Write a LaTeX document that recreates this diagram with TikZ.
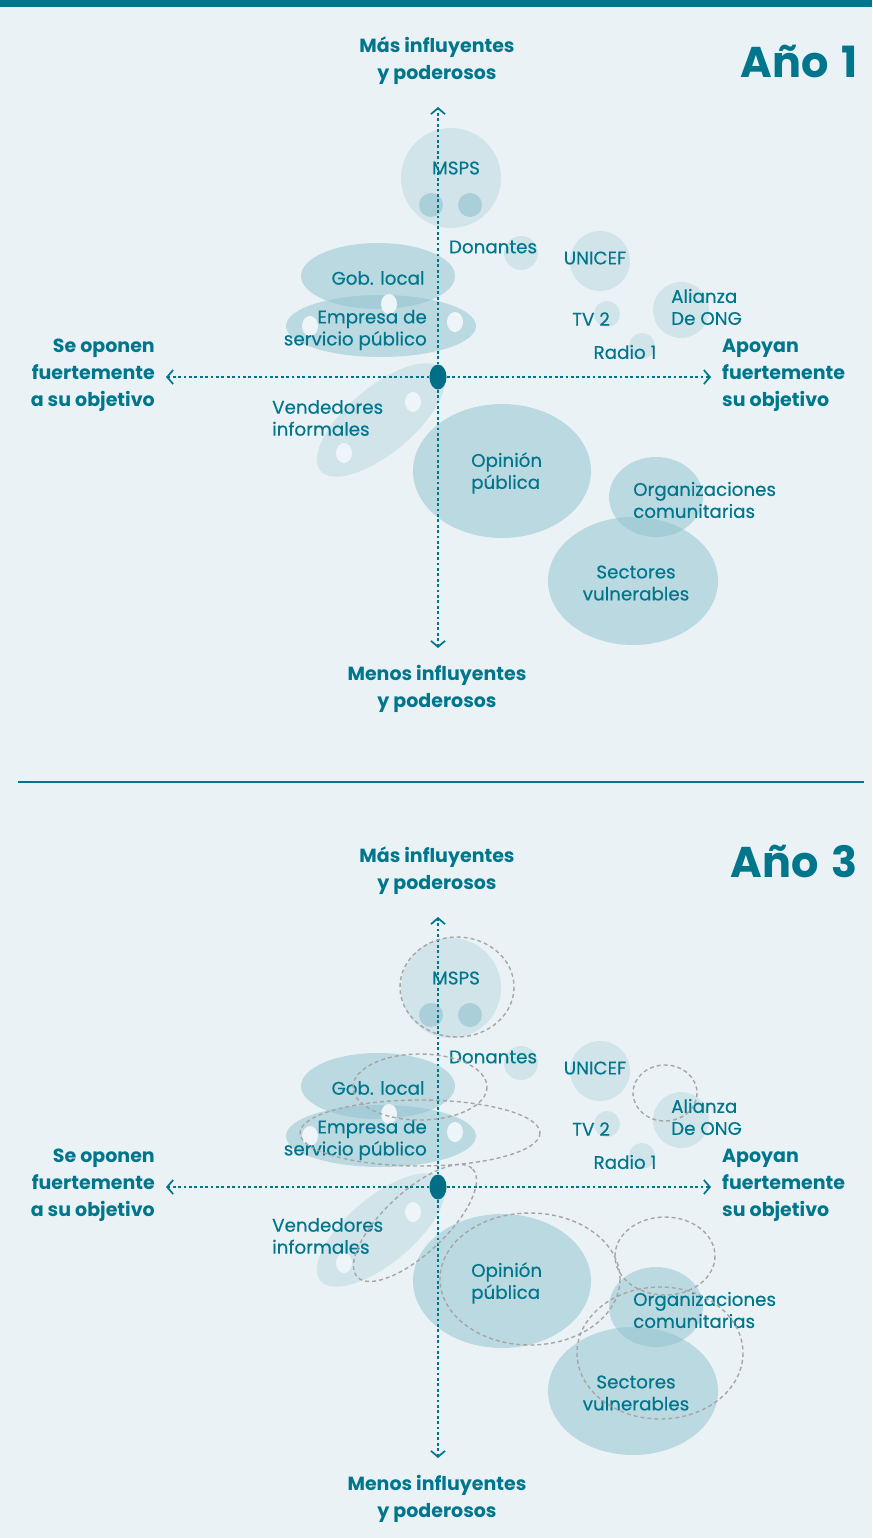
\documentclass[tikz,border=0pt]{standalone}
\usepackage{fontspec}
\setmainfont{Poppins}
\newfontfamily\bubfont{Poppins}[FakeBold=0.35]
\usetikzlibrary{arrows.meta,shapes.geometric}
\definecolor{teal0}{HTML}{00768C}
\definecolor{dotc}{HTML}{006E85}
\definecolor{bgc}{HTML}{EAF2F6}
\definecolor{bub}{HTML}{8EC2CE}
\definecolor{smallc}{HTML}{ABCFD8}
\definecolor{holec}{HTML}{EEF5F8}
\definecolor{ghostc}{HTML}{A6A6A6}
\tikzset{
  txt/.style={text=teal0, font=\bubfont\fontsize{18.3}{22}\selectfont, inner sep=0pt},
  lbl/.style={text=teal0, font=\bfseries\fontsize{19}{27}\selectfont, inner sep=0pt},
  ttl/.style={text=teal0, font=\bfseries\fontsize{43}{46}\selectfont, inner sep=0pt},
  light/.style={fill=bub, fill opacity=0.28},
  medium/.style={fill=bub, fill opacity=0.5},
  hole/.style={fill=holec},
  smallb/.style={fill=smallc},
  axisline/.style={draw=teal0, line width=2.1pt, dash pattern=on 2.8pt off 2.6pt,
     -{Straight Barb[length=6pt,width=14pt,line width=1.7pt]}},
  ghost/.style={draw=ghostc, line width=1.4pt, dash pattern=on 4pt off 3pt},
}
\newcommand{\stkpanel}[5]{%
\begin{scope}[yshift=#3]
  % bubbles
  \fill[light] (451,178) circle[radius=50];
  \fill[smallb] (431,205) circle[radius=12];
  \fill[smallb] (470,205) circle[radius=12];
  \fill[light] (521,253) circle[radius=17];
  \fill[light] (600,261) circle[radius=30];
  \fill[light] (607,314) circle[radius=13];
  \fill[light] (642,346) circle[radius=13];
  \fill[light] (681,310) circle[radius=28];
  \fill[medium] (378,276) ellipse[x radius=77, y radius=33];
  \fill[medium] (381,326) ellipse[x radius=95, y radius=31];
  \fill[hole] (389,304) ellipse[x radius=8, y radius=10];
  \fill[hole] (310,326) ellipse[x radius=8, y radius=10];
  \fill[hole] (455,322) ellipse[x radius=8, y radius=10];
  \fill[light, rotate around={40:(381,420)}] (381,420) ellipse[x radius=79, y radius=33];
  \fill[hole] (413,402) ellipse[x radius=8, y radius=10];
  \fill[hole] (344,453) ellipse[x radius=8, y radius=10];
  \fill[medium] (502,471) ellipse[x radius=89, y radius=67];
  \fill[medium] (656,497) ellipse[x radius=47, y radius=40];
  \fill[medium] (633,581) ellipse[x radius=85, y radius=64];
  % axes
  \node[ellipse, fill=dotc, minimum width=17pt, minimum height=25pt, inner sep=0pt] (#1c) at (438,377) {};
  \coordinate (#1top) at (438,107);
  \coordinate (#1bot) at (438,648);
  \coordinate (#1left) at (166,377);
  \coordinate (#1right) at (711,377);
  \draw[axisline] (#1c) -- (#1top);
  \draw[axisline] (#1c) -- (#1bot);
  \draw[axisline] (#1c) -- (#1left);
  \draw[axisline] (#1c) -- (#1right);
  % axis labels
  \node[lbl, align=center] (#1mas) at (437,61) {Más influyentes\\y poderosos};
  \node[lbl, align=center] (#1menos) at (437,689) {Menos influyentes\\y poderosos};
  \node[lbl, align=right, anchor=east] (#1opo) at (155,375) {Se oponen\\fuertemente\\a su objetivo};
  \node[lbl, align=left, anchor=west] (#1apo) at (722,375) {Apoyan\\fuertemente\\su objetivo};
  \node[ttl, anchor=east] (#1title) at (858,{61+#4}) {#2};
  % bubble labels
  \node[txt] (#1msps) at (456,168) {MSPS};
  \node[txt] (#1don) at (493,247) {Donantes};
  \node[txt] (#1unicef) at (595,258) {UNICEF};
  \node[txt] (#1tv) at (591,319) {TV 2};
  \node[txt] (#1radio) at (625,352) {Radio 1};
  \node[txt, align=left, anchor=west] (#1ali) at (671,307) {Alianza\\De ONG};
  \node[txt] (#1gob) at (378,278) {Gob. local};
  \node[txt, align=right, anchor=east] (#1emp) at (427,330) {Empresa de\\servicio público};
  \node[txt, align=left, anchor=west] (#1ven) at (272,{418+#5}) {Vendedores\\informales};
  \node[txt, align=left, anchor=west] (#1opi) at (471,473) {Opinión\\pública};
  \node[txt, align=left, anchor=west] (#1org) at (633,500) {Organizaciones\\comunitarias};
  \node[txt, align=center] (#1sec) at (636,583) {Sectores\\vulnerables};
\end{scope}}
\begin{document}
\begin{tikzpicture}[x=1pt,y=-1pt]
\useasboundingbox (0,0) rectangle (872,1538);
\fill[bgc] (0,0) rectangle (872,1538);
\fill[teal0] (0,0) rectangle (872,7);
\stkpanel{a}{Año\hspace{4pt} 1}{0pt}{0}{0}
\draw[teal0, line width=1.5pt] (18,782) -- (864,782);
\stkpanel{b}{Año\hspace{4pt} 3}{-810pt}{-10}{8}
% dashed outlines for year 3
\draw[ghost] (457,987) ellipse[x radius=57, y radius=50];
\draw[ghost] (420,1087) ellipse[x radius=67, y radius=33];
\draw[ghost] (420,1133) ellipse[x radius=120, y radius=33];
\draw[ghost, rotate around={43:(415,1223)}] (415,1223) ellipse[x radius=79, y radius=31];
\draw[ghost] (530,1279) ellipse[x radius=90, y radius=66];
\draw[ghost] (665,1256) ellipse[x radius=50, y radius=39];
\draw[ghost] (660,1353) ellipse[x radius=83, y radius=66];
\draw[ghost] (665,1093) ellipse[x radius=32, y radius=28];
\end{tikzpicture}
\end{document}
